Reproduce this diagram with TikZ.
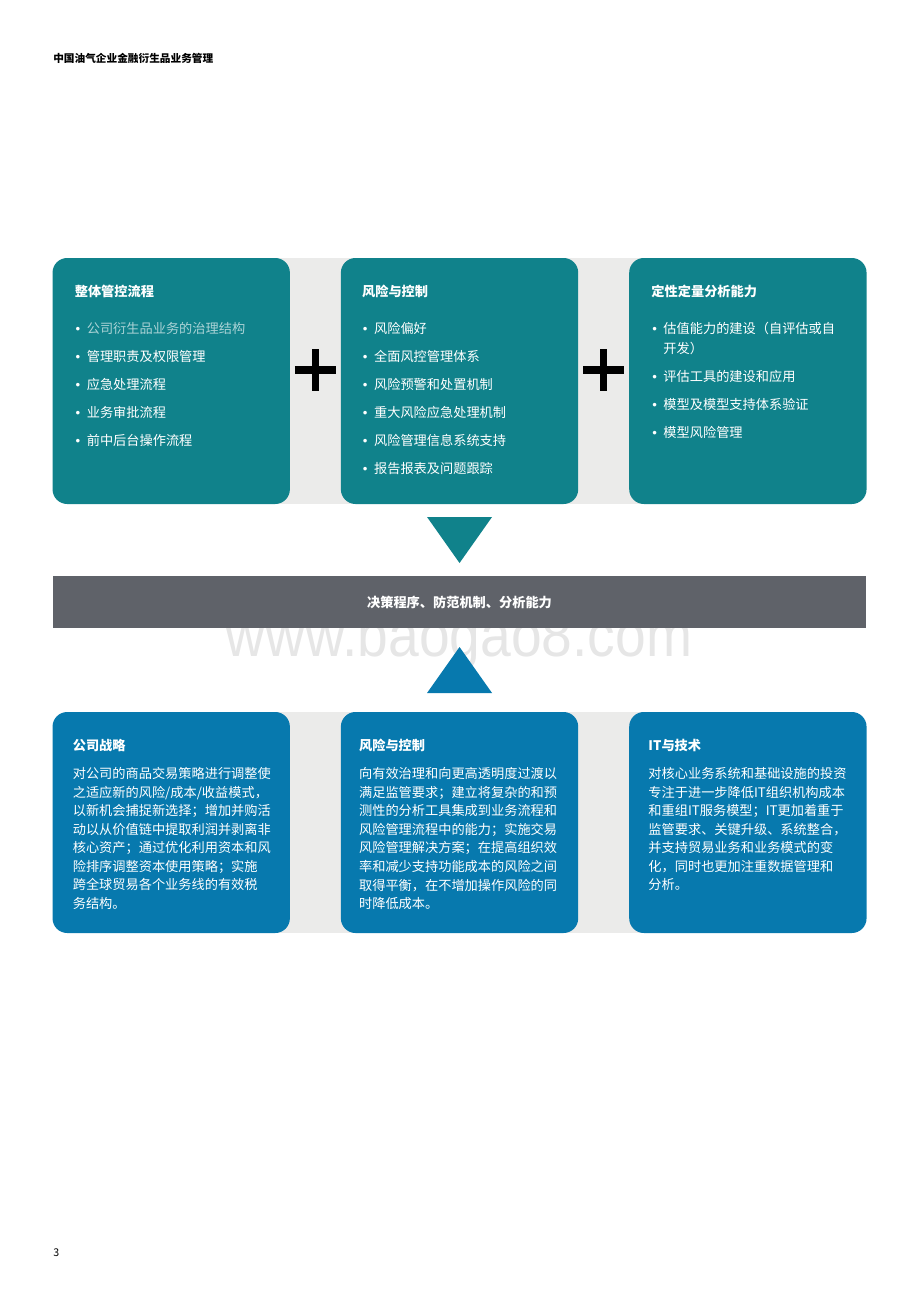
\documentclass[tikz,border=0pt]{standalone}
\usepackage{fontspec}
\setmainfont{Noto Sans CJK SC}
\newfontfamily\latinfont{Liberation Sans}
\usepackage{xcolor}
\usetikzlibrary{positioning,calc,backgrounds}
\definecolor{tealbox}{HTML}{10828B}
\definecolor{bluebox}{HTML}{0779AE}
\definecolor{bargray}{HTML}{5F6269}
\definecolor{bandgray}{HTML}{EBEBEA}
\definecolor{markgray}{HTML}{E6E6E6}
\newcommand{\bul}{\makebox[9pt][l]{\hspace{0.6pt}\latinfont •}}

\begin{document}
\begin{tikzpicture}[x=0.75pt,y=-0.75pt,
  box/.style={rounded corners=11pt, minimum width=178pt, inner sep=0pt, outer sep=0pt},
  topbox/.style={box, fill=tealbox, minimum height=184.5pt},
  lowbox/.style={box, fill=bluebox, minimum height=165.75pt},
  boxtext/.style={anchor=north west, inner sep=0pt, align=left, text=white, font=\fontsize{9.9}{15}\selectfont},
  lowtext/.style={boxtext, font=\fontsize{9.9}{13.93}\selectfont},
  plus/.style={line width=5.6pt, black},
  node distance=38.25pt]
\useasboundingbox (0,0) rectangle (920,1302);
\node[anchor=west, inner sep=0pt, font=\fontsize{8}{8}\selectfont\bfseries] (head) at (53,58) {中国油气企业金融衍生品业务管理};
\node[anchor=west, inner sep=0pt, font=\fontsize{8}{8}\selectfont] (page) at (53,1253) {3};

\node[topbox] (b1) at (171.2,381) {};
\node[topbox, right=of b1] (b2) {};
\node[topbox, right=of b2] (b3) {};
\node[lowbox, below=156pt of b1] (c1) {};
\node[lowbox, right=of c1] (c2) {};
\node[lowbox, right=of c2] (c3) {};
\begin{scope}[on background layer]
\fill[bandgray] (b1.north) rectangle (b3.south);
\fill[bandgray] (c1.north) rectangle (c3.south);
\end{scope}

\node[anchor=base, inner sep=0pt, text=markgray, xscale=0.9, font=\latinfont\fontsize{46}{48}\selectfont] (mark) at (459,656) {www.baogao8.com};
\node[fill=bargray, minimum width=609.75pt, minimum height=39pt, inner sep=0pt, outer sep=0pt, text=white, font=\fontsize{9.9}{12}\selectfont\bfseries, below=54pt of b2] (bar) {决策程序、防范机制、分析能力};
\fill[tealbox] ([shift={(-32.5,13)}]b2.south) -- ([shift={(32.5,13)}]b2.south) -- ([shift={(0,-13)}]bar.north) -- cycle;
\fill[bluebox] ([shift={(0,19)}]bar.south) -- ([shift={(32.5,-19)}]c2.north) -- ([shift={(-32.5,-19)}]c2.north) -- cycle;

\coordinate (p1) at ($(b1.east)!.5!(b2.west)+(0,-11)$);
\coordinate (p2) at ($(b2.east)!.5!(b3.west)+(0,-11)$);
\foreach \p in {p1,p2}
  \draw[plus] ([xshift=-15.4pt]\p) -- ([xshift=15.4pt]\p) ([yshift=15.4pt]\p) -- ([yshift=-15.4pt]\p);

\node[boxtext] (t1) at ([shift={(22,27)}]b1.north west) {{\bfseries 整体管控流程}\\[12.75pt]
\bul{\color{white!65!tealbox}公司衍生品业务的治理结构}\\[6pt]
\bul 管理职责及权限管理\\[6pt]
\bul 应急处理流程\\[6pt]
\bul 业务审批流程\\[6pt]
\bul 前中后台操作流程};
\node[boxtext] (t2) at ([shift={(21,27)}]b2.north west) {{\bfseries 风险与控制}\\[12.75pt]
\bul 风险偏好\\[6pt]
\bul 全面风控管理体系\\[6pt]
\bul 风险预警和处置机制\\[6pt]
\bul 重大风险应急处理机制\\[6pt]
\bul 风险管理信息系统支持\\[6pt]
\bul 报告报表及问题跟踪};
\node[boxtext] (t3) at ([shift={(22,27)}]b3.north west) {{\bfseries 定性定量分析能力}\\[12.75pt]
\bul 估值能力的建设（自评估或自\\
\hspace*{9pt}开发）\\[6pt]
\bul 评估工具的建设和应用\\[6pt]
\bul 模型及模型支持体系验证\\[6pt]
\bul 模型风险管理};

\node[lowtext] (u1) at ([shift={(20,27)}]c1.north west) {{\bfseries 公司战略}\\[7pt]
对公司的商品交易策略进行调整使\\
之适应新的风险/成本/收益模式，\\
以新机会捕捉新选择；增加并购活\\
动以从价值链中提取利润并剥离非\\
核心资产；通过优化利用资本和风\\
险排序调整资本使用策略；实施\\
跨全球贸易各个业务线的有效税\\
务结构。};
\node[lowtext] (u2) at ([shift={(18,27)}]c2.north west) {{\bfseries 风险与控制}\\[7pt]
向有效治理和向更高透明度过渡以\\
满足监管要求；建立将复杂的和预\\
测性的分析工具集成到业务流程和\\
风险管理流程中的能力；实施交易\\
风险管理解决方案；在提高组织效\\
率和减少支持功能成本的风险之间\\
取得平衡，在不增加操作风险的同\\
时降低成本。};
\node[lowtext] (u3) at ([shift={(19,27)}]c3.north west) {{\bfseries IT与技术}\\[7pt]
对核心业务系统和基础设施的投资\\
专注于进一步降低IT组织机构成本\\
和重组IT服务模型；IT更加着重于\\
监管要求、关键升级、系统整合，\\
并支持贸易业务和业务模式的变\\
化，同时也更加注重数据管理和\\
分析。};
\end{tikzpicture}
\end{document}
